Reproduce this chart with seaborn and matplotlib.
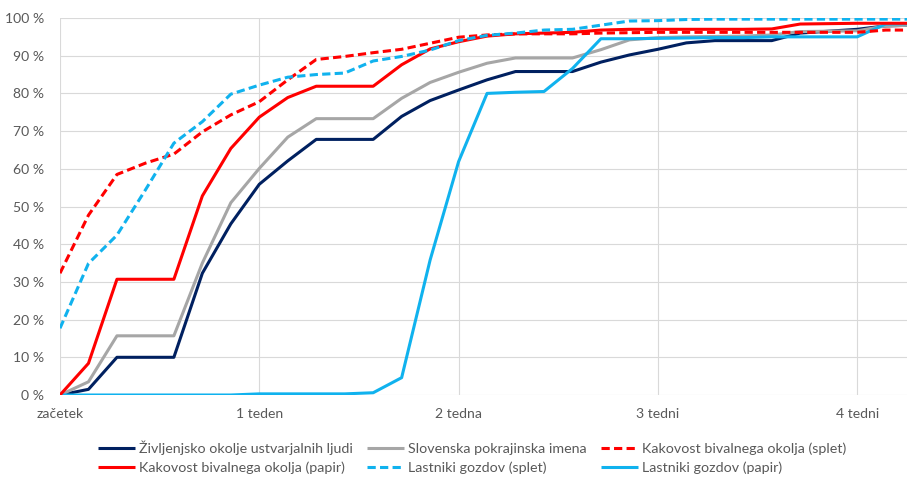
import matplotlib
matplotlib.use("Agg")
import matplotlib.pyplot as plt
import seaborn as sns
import numpy as np
import pandas as pd
from matplotlib.ticker import FuncFormatter

days = list(range(31))

zivljenjsko = [0, 1.5, 10, 10, 10, 32.3, 45.4, 55.9, 62.1, 67.8, 67.8, 67.8, 73.9, 78.1, 80.9,
               83.6, 85.8, 85.8, 85.8, 88.3, 90.2, 91.7, 93.4, 94, 94, 94, 96, 96.5, 97, 97.9, 98.1]
slovenska = [0, 3.5, 15.7, 15.7, 15.7, 35, 51, 60.1, 68.4, 73.3, 73.3, 73.3, 78.7, 82.9, 85.6,
             88, 89.4, 89.4, 89.4, 91.6, 94.2, 94.8, 95, 95.1, 95.2, 95.5, 96.4, 96.5, 96.6, 97.9, 98.1]
kakovost_splet = [32.3, 47.7, 58.5, 61.5, 63.9, 69.8, 74.3, 77.8, 83.6, 89, 89.8, 90.8, 91.7, 93.3, 94.9,
                  95.5, 95.8, 95.8, 95.8, 96, 96.1, 96.2, 96.2, 96.2, 96.2, 96.2, 96.2, 96.2, 96.2, 96.8, 96.8]
kakovost_papir = [0, 8.4, 30.7, 30.7, 30.7, 52.8, 65.4, 73.7, 78.9, 81.9, 81.9, 81.9, 87.6, 91.8, 93.7,
                  95.2, 95.8, 96, 96.2, 96.8, 97, 97, 97, 97, 97, 97.1, 98.4, 98.5, 98.6, 98.6, 98.6]
lastniki_splet = [17.7, 34.9, 42.4, 54.4, 66.8, 72.5, 79.8, 82.2, 84.3, 85, 85.4, 88.6, 89.8, 91.5, 94,
                  95.4, 96, 96.8, 97, 98.1, 99.2, 99.3, 99.6, 99.7, 99.7, 99.7, 99.7, 99.7, 99.7, 99.7, 99.7]
lastniki_papir = [0, 0, 0, 0, 0, 0, 0, 0.3, 0.3, 0.3, 0.3, 0.6, 4.6, 35.8, 61.9,
                  80, 80.3, 80.5, 86.6, 94.5, 94.5, 94.6, 94.7, 94.8, 94.8, 95, 95, 95, 95, 98.4, 98.5]

labels = ["Življenjsko okolje ustvarjalnih ljudi", "Slovenska pokrajinska imena",
          "Kakovost bivalnega okolja (splet)", "Kakovost bivalnega okolja (papir)",
          "Lastniki gozdov (splet)", "Lastniki gozdov (papir)"]
series = [zivljenjsko, slovenska, kakovost_splet, kakovost_papir, lastniki_splet, lastniki_papir]
colors = ["#002060", "#A6A6A6", "#FF0000", "#FF0000", "#10B2EE", "#10B2EE"]
dashed = [False, False, True, False, True, False]

tick_pos = [0, 7, 14, 21, 28]
tick_labels = ["začetek", "1 teden", "2 tedna", "3 tedni", "4 tedni"]

sns.set_theme(style="white")
plt.rcParams['font.family'] = ['Lato', 'DejaVu Sans']

fig = plt.figure(figsize=(9.08, 4.80), dpi=100)
ax = fig.add_axes([60/908, 1-395/480, 847/908, 377/480])

draw_order = [0, 1, 5, 3, 2, 4]
handles = {}
for i in draw_order:
    df = pd.DataFrame({"x": days, "y": series[i]})
    kw = {}
    if dashed[i]:
        kw["linestyle"] = (0, (2.7, 1.4))
    sns.lineplot(data=df, x="x", y="y", ax=ax, color=colors[i], linewidth=2.2,
                 label=labels[i], legend=False, **kw)
    handles[i] = ax.lines[-1]
    handles[i].set_solid_capstyle("butt")

ax.set_xlim(0, 29.75)
ax.set_ylim(0, 100)
ax.set_xticks(tick_pos)
ax.set_xticklabels(tick_labels)
ax.set_yticks(np.arange(0, 101, 10))
ax.yaxis.set_major_formatter(FuncFormatter(lambda v, p: f"{int(v)} %"))
ax.set_xlabel("")
ax.set_ylabel("")
ax.grid(True, color="#D9D9D9", linewidth=0.8)
ax.set_axisbelow(True)
for s in ax.spines.values():
    s.set_visible(False)
ax.tick_params(axis="y", length=0, pad=11.5, labelsize=10.1, labelcolor="#595959")
ax.tick_params(axis="x", length=0, pad=9, labelsize=10.1, labelcolor="#595959")

order = [0, 3, 1, 4, 2, 5]
leg = fig.legend([handles[i] for i in order], [labels[i] for i in order],
                 ncol=3, loc="center", bbox_to_anchor=(0.52, 0.047), frameon=False,
                 fontsize=10.3, handlelength=2.6, handletextpad=0.28,
                 columnspacing=1.0, labelspacing=0.46)
for t in leg.get_texts():
    t.set_color("#595959")

fig.savefig("out.png", dpi=100)
